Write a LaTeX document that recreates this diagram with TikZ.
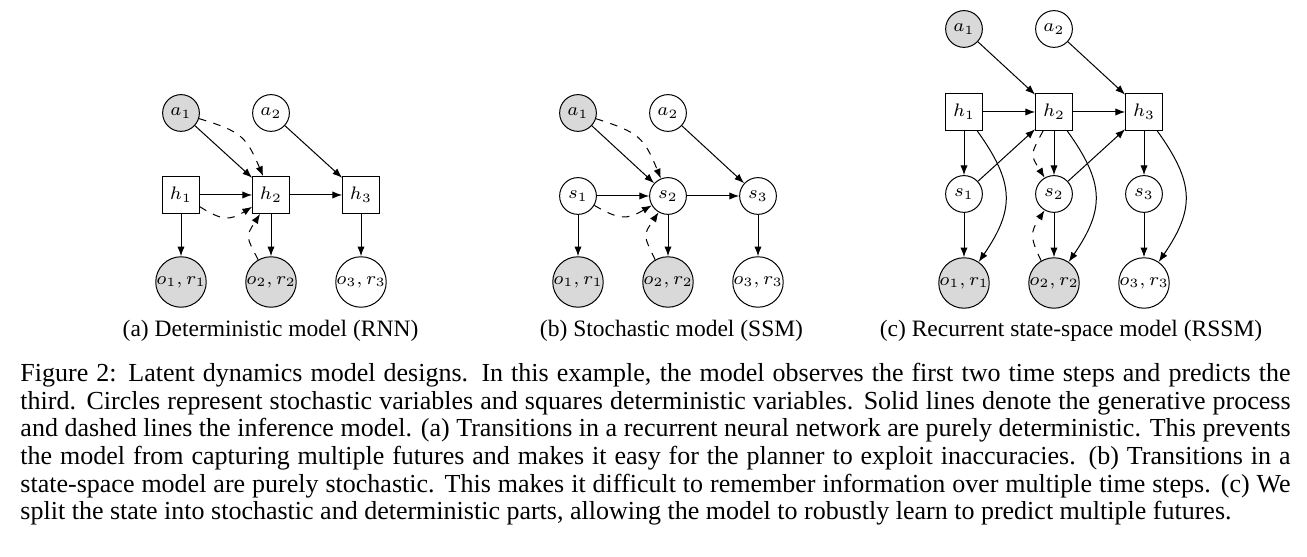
\documentclass[tikz,border=0pt]{standalone}
\usepackage{fix-cm}
\usepackage[no-math]{fontspec}
\setmainfont{Liberation Serif}
\usetikzlibrary{arrows.meta}

\begin{document}
\begin{tikzpicture}[x=0.4pt, y=0.4pt,
		var/.style={circle, draw, inner sep=0pt, minimum size=14.7pt, font=\fontsize{7.25}{8.7}\selectfont},
		obs/.style={var, fill=gray!30},
		det/.style={rectangle, draw, inner sep=0pt, minimum size=14.7pt, font=\fontsize{7.25}{8.7}\selectfont},
		gen/.style={-{Latex[length=3.9pt,width=2.9pt]}},
		inf/.style={gen, dashed},
		subcap/.style={anchor=base, inner sep=0pt, font=\fontsize{9.4}{11.04}\selectfont}]
		\useasboundingbox (0,0) rectangle (1307,-557);

		% (a) RNN
		\node[obs] (ra1) at (181,-113) {$a_1$};
		\node[var] (ra2) at (271,-113) {$a_2$};
		\node[det] (rh1) at (181,-195) {$h_1$};
		\node[det] (rh2) at (271,-195) {$h_2$};
		\node[det] (rh3) at (361,-195) {$h_3$};
		\node[obs] (ro1) at (181,-282) {$o_1, r_1$};
		\node[obs] (ro2) at (271,-282) {$o_2, r_2$};
		\node[var] (ro3) at (361,-282) {$o_3, r_3$};

		\draw[gen] (ra1) -- (rh2);
		\draw[gen] (ra2) -- (rh3);
		\draw[gen] (rh1) -- (rh2);
		\draw[gen] (rh2) -- (rh3);
		\draw[gen] (rh1) -- (ro1);
		\draw[gen] (rh2) -- (ro2);
		\draw[gen] (rh3) -- (ro3);
		\draw[inf] (ra1) to[bend left=25, looseness=1.3] (rh2);
		\draw[inf] (rh1) to[bend right=32, looseness=1.3] (rh2);
		\draw[inf] (ro2) to[bend left=30, looseness=1.5] (rh2);

		\node[subcap] (capa) at (270.5,-337) {(a) Deterministic model (RNN)};

		% (b) SSM
		\node[obs] (sa1) at (578,-113) {$a_1$};
		\node[var] (sa2) at (668,-113) {$a_2$};
		\node[var] (ss1) at (578,-196) {$s_1$};
		\node[var] (ss2) at (668,-196) {$s_2$};
		\node[var] (ss3) at (758,-196) {$s_3$};
		\node[obs] (so1) at (578,-282) {$o_1, r_1$};
		\node[obs] (so2) at (668,-282) {$o_2, r_2$};
		\node[var] (so3) at (758,-282) {$o_3, r_3$};

		\draw[gen] (sa1) -- (ss2);
		\draw[gen] (sa2) -- (ss3);
		\draw[gen] (ss1) -- (ss2);
		\draw[gen] (ss2) -- (ss3);
		\draw[gen] (ss1) -- (so1);
		\draw[gen] (ss2) -- (so2);
		\draw[gen] (ss3) -- (so3);
		\draw[inf] (sa1) to[bend left=25, looseness=1.3] (ss2);
		\draw[inf] (ss1) to[bend right=30, looseness=1.3] (ss2);
		\draw[inf] (so2) to[bend left=30, looseness=1.5] (ss2);

		\node[subcap] (capb) at (671.5,-337) {(b) Stochastic model (SSM)};

		% (c) RSSM
		\node[obs] (ca1) at (964,-29) {$a_1$};
		\node[var] (ca2) at (1054,-29) {$a_2$};
		\node[det] (ch1) at (964,-112) {$h_1$};
		\node[det] (ch2) at (1054,-112) {$h_2$};
		\node[det] (ch3) at (1144,-112) {$h_3$};
		\node[var] (cs1) at (964,-194) {$s_1$};
		\node[var] (cs2) at (1054,-194) {$s_2$};
		\node[var] (cs3) at (1144,-194) {$s_3$};
		\node[obs] (co1) at (964,-283) {$o_1, r_1$};
		\node[obs] (co2) at (1054,-283) {$o_2, r_2$};
		\node[var] (co3) at (1144,-283) {$o_3, r_3$};

		\draw[gen] (ca1) -- (ch2);
		\draw[gen] (ca2) -- (ch3);
		\draw[gen] (ch1) -- (ch2);
		\draw[gen] (ch2) -- (ch3);
		\draw[gen] (cs1) -- (ch2);
		\draw[gen] (cs2) -- (ch3);
		\draw[gen] (ch1) -- (cs1);
		\draw[gen] (ch2) -- (cs2);
		\draw[gen] (ch3) -- (cs3);
		\draw[gen] (cs1) -- (co1);
		\draw[gen] (cs2) -- (co2);
		\draw[gen] (cs3) -- (co3);
		\draw[gen] (ch1) to[bend left=35, looseness=1.25] (co1);
		\draw[gen] (ch2) to[bend left=35, looseness=1.25] (co2);
		\draw[gen] (ch3) to[bend left=35, looseness=1.25] (co3);
		\draw[inf] (ch2) to[bend right=30, looseness=1.5] (cs2);
		\draw[inf] (co2) to[bend left=30, looseness=1.3] (cs2);

		\node[subcap] (capc) at (1071,-337) {(c) Recurrent state-space model (RSSM)};

		% caption
		\node[anchor=north west, text width=508pt, align=justify, inner sep=0pt, font=\fontsize{10.4}{11.08}\selectfont] (cap) at (20,-362.5) {\hyphenpenalty=10000 Figure 2: Latent dynamics model designs. In this example, the model observes the first two time steps and predicts the\linebreak
			third. Circles represent stochastic variables and squares deterministic variables. Solid lines denote the generative process\linebreak
			and dashed lines the inference model. (a) Transitions in a recurrent neural network are purely deterministic. This prevents\linebreak
			the model from capturing multiple futures and makes it easy for the planner to exploit inaccuracies. (b) Transitions in a\linebreak
			state-space model are purely stochastic. This makes it difficult to remember information over multiple time steps. (c) We\linebreak
			split the state into stochastic and deterministic parts, allowing the model to robustly learn to predict multiple futures.};
	\end{tikzpicture}
\end{document}
